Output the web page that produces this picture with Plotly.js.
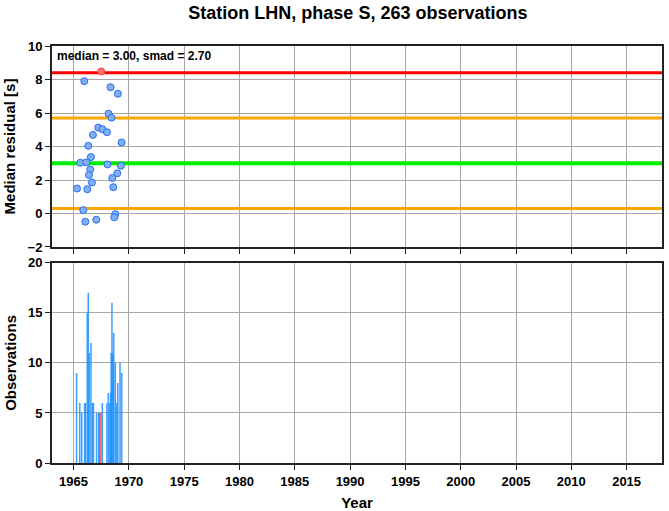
<!DOCTYPE html>
<html><head><meta charset="utf-8">
<script src="https://cdn.plot.ly/plotly-3.0.1.min.js"></script>
<style>html,body{margin:0;padding:0;background:#fff;}#chart{width:669px;height:511px;}</style>
</head><body><div id="chart"></div>
<script>
// residual points (year, median residual in s)
const pointYears = [1965.97,1968.34,1969.01,1968.16,1968.43,1967.23,1967.62,1968.02,1966.75,1969.34,1966.33,1966.57,1965.61,1966.15,1968.07,1969.28,1966.51,1966.39,1968.95,1968.50,1966.66,1965.31,1966.24,1968.59,1965.88,1968.77,1968.68,1966.06,1967.05];
const pointResiduals = [7.90,7.54,7.15,5.96,5.72,5.13,5.03,4.85,4.69,4.24,4.04,3.37,3.03,3.05,2.93,2.85,2.62,2.30,2.40,2.12,1.85,1.49,1.45,1.57,0.20,-0.04,-0.23,-0.49,-0.37];
const outlierYears = [1967.50];
const outlierResiduals = [8.48];
// reference levels
const medianLevel = 3.00;
const innerLevels = [0.30, 5.70];
const outerLevel = 8.40;
// observation counts
const barYears = [1965.27,1965.56,1965.74,1966.00,1966.08,1966.24,1966.33,1966.41,1966.57,1966.70,1966.80,1967.08,1967.28,1967.33,1967.60,1968.02,1968.14,1968.28,1968.35,1968.40,1968.47,1968.55,1968.63,1968.77,1968.90,1969.00,1969.20,1969.35];
const barCounts = [9,6,5,6,6,15,17,11,12,6,6,5,5,5,6,6,7,6,7,11,16,11,13,10,6,8,10,9];
const outlierBarYears = [1967.47];
const outlierBarCounts = [5];
const xRange = [1963.05, 2018.2];
const xTicks = [1965,1970,1975,1980,1985,1990,1995,2000,2005,2010,2015];

const F = 'Liberation Sans, Arial, Helvetica, sans-serif';
const traces = [
  {x: xRange, y: [outerLevel, outerLevel], mode:'lines', line:{color:'#ff0000', width:3}, xaxis:'x', yaxis:'y', hoverinfo:'skip'},
  {x: xRange, y: [innerLevels[1], innerLevels[1]], mode:'lines', line:{color:'#ffa500', width:3}, xaxis:'x', yaxis:'y', hoverinfo:'skip'},
  {x: xRange, y: [medianLevel, medianLevel], mode:'lines', line:{color:'#00ee00', width:4}, xaxis:'x', yaxis:'y', hoverinfo:'skip'},
  {x: xRange, y: [innerLevels[0], innerLevels[0]], mode:'lines', line:{color:'#ffa500', width:3}, xaxis:'x', yaxis:'y', hoverinfo:'skip'},
  {x: pointYears, y: pointResiduals, mode:'markers', marker:{size:7, color:'#80b0f4', line:{color:'#2a6ef0', width:1}}, xaxis:'x', yaxis:'y'},
  {x: outlierYears, y: outlierResiduals, mode:'markers', marker:{size:7, color:'#ff7070', line:{color:'#ff4040', width:1}}, xaxis:'x', yaxis:'y'},
  {type:'bar', x: barYears, y: barCounts, width:0.14, marker:{color:'#1e90ff', opacity:0.85, line:{width:0}}, xaxis:'x2', yaxis:'y2'},
  {type:'bar', x: outlierBarYears, y: outlierBarCounts, width:0.1, marker:{color:'#ff2020', line:{width:0}}, xaxis:'x2', yaxis:'y2'}
];
const axisCommon = {showline:true, linecolor:'#222', linewidth:2, mirror:true, ticks:'outside', ticklen:5, tickcolor:'#222', gridcolor:'#a8a8a8', gridwidth:1, zeroline:false, tickfont:{family:F, size:13, color:'#000', weight:'bold'}};
const layout = {
  width:669, height:511, showlegend:false, barmode:'overlay',
  paper_bgcolor:'#fff', plot_bgcolor:'#fff',
  margin:{l:52, r:7, t:46, b:48},
  font:{family:F, color:'#000'},
  title:{text:'<b>Station LHN, phase S, 263 observations</b>', font:{family:F, size:18, color:'#000'}, x:0.535, xanchor:'center', y:0.988, yanchor:'top'},
  xaxis: Object.assign({}, axisCommon, {domain:[0,1], range:xRange, tickvals:xTicks, showticklabels:false, anchor:'y'}),
  yaxis: Object.assign({}, axisCommon, {domain:[0.518,1], range:[-2,10], dtick:2, tick0:0, anchor:'x',
    title:{text:'<b>Median residual [s]</b>', font:{family:F, size:15}, standoff:8}}),
  xaxis2: Object.assign({}, axisCommon, {domain:[0,1], range:xRange, tickvals:xTicks, anchor:'y2',
    title:{text:'<b>Year</b>', font:{family:F, size:15}, standoff:12}}),
  yaxis2: Object.assign({}, axisCommon, {domain:[0,0.48], range:[0,20], dtick:5, anchor:'x2',
    title:{text:'<b>Observations</b>', font:{family:F, size:15}, standoff:8}}),
  annotations:[{xref:'x domain', yref:'y domain', x:0.005, y:0.995, xanchor:'left', yanchor:'top', showarrow:false,
    text:'<b>median = 3.00, smad = 2.70</b>', font:{family:F, size:12, color:'#000'}}]
};
Plotly.newPlot('chart', traces, layout, {staticPlot:true, displayModeBar:false});
</script></body></html>
